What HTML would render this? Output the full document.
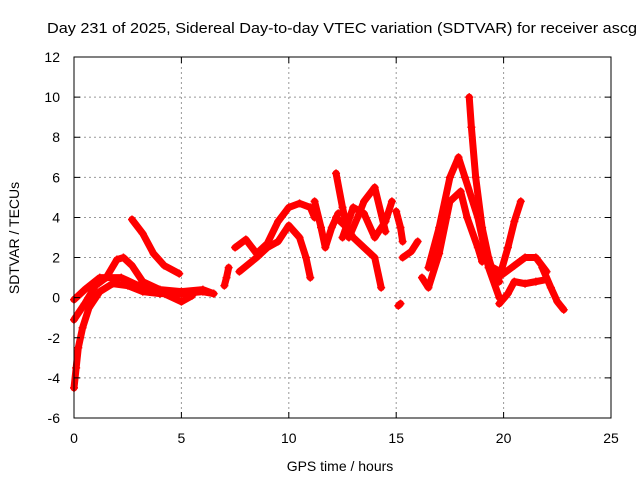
<!DOCTYPE html>
<html><head><meta charset="utf-8"><style>
body{margin:0;background:#fff}
svg{display:block;font-family:"Liberation Sans",sans-serif}
</style></head><body>
<svg id="chart" width="640" height="480" viewBox="0 0 640 480">
<text x="47" y="33" font-size="15" textLength="590" lengthAdjust="spacingAndGlyphs" fill="#000">Day 231 of 2025, Sidereal Day-to-day VTEC variation (SDTVAR) for receiver ascg</text>
<g id="grid"></g><g id="series"></g><g id="axes"></g>
<text x="340" y="471" font-size="14" text-anchor="middle">GPS time / hours</text>
<text transform="translate(19,238) rotate(-90)" font-size="14" text-anchor="middle">SDTVAR / TECUs</text>
</svg>
<script>
const xTicks=[0,5,10,15,20,25];
const yTicks=[-6,-4,-2,0,2,4,6,8,10,12];
const trackA=[[0,-4.5],[0.1,-3.5],[0.2,-2.5],[0.4,-1.5],[0.7,-0.5],[1.2,0.3],[1.8,0.7],[2.5,0.6],[3.2,0.3],[4,0.2],[5,0.2],[6,0.3],[6.5,0.2]];
const trackB=[[0,-1.1],[0.5,-0.3],[1,0.6],[1.5,1.0],[2,1.9],[2.3,2.0],[2.7,1.6],[3.2,0.8],[4,0.4],[5,0.3],[6,0.4],[6.5,0.2]];
const trackC=[[0,-0.1],[0.5,0.4],[1.2,1.0],[2.2,1.0],[3,0.6],[4,0.3],[5,-0.2],[5.5,0.1]];
const trackD=[[2.7,3.9],[3.2,3.2],[3.7,2.2],[4.2,1.6],[4.9,1.2]];
const trackE=[[7.0,0.6],[7.1,1.0],[7.2,1.5]];
const trackF=[[7.5,2.5],[8,2.9],[8.5,2.2],[9,2.7],[9.5,3.8],[10,4.5],[10.5,4.7],[11,4.5],[11.2,4.0]];
const trackG=[[7.7,1.3],[8.5,2.0],[9,2.5],[9.5,2.8],[10,3.6],[10.5,3.0],[10.8,2.0],[11,1.0]];
const trackH=[[11.2,4.8],[11.5,3.5],[11.7,2.5],[12,3.5],[12.3,4.2]];
const trackI=[[12.2,6.2],[12.5,4.5],[12.8,3.0],[13.2,4.0],[13.5,4.8],[14,5.5],[14.5,3.3]];
const trackJ=[[12.2,4.0],[12.7,3.5],[13,3.0],[13.5,2.5],[14,2.0],[14.3,0.5]];
const trackK=[[12.5,3.0],[13,4.5],[13.5,4.2],[14,3.0],[14.5,3.8],[14.8,4.8]];
const trackM=[[15,4.3],[15.2,3.5],[15.3,2.8]];
const trackM2=[[15.1,-0.4],[15.2,-0.3]];
const trackN=[[15.3,2.0],[15.7,2.3],[16,2.8]];
const trackO=[[16.2,1.0],[16.5,0.5],[17,2.2],[17.5,4.8],[18,5.3],[18.3,4.0],[18.8,2.5],[19,1.8]];
const trackP=[[16.5,1.5],[17,3.5],[17.5,6],[17.9,7.0],[18.2,6],[18.8,4],[19.3,1.5],[19.8,0]];
const trackQ=[[18.4,10],[18.5,8.5],[18.7,6],[19,3.5],[19.3,2.0],[19.5,1.3],[19.8,0.8]];
const trackR=[[19.8,1.0],[20.2,2.5],[20.5,3.8],[20.8,4.8]];
const trackS=[[19.5,1.5],[20,1.2],[20.5,1.6],[21,2.0],[21.5,2.0],[22,1.3]];
const trackT=[[19.8,-0.3],[20.2,0.2],[20.5,0.8],[21,0.7],[21.5,0.8],[22,0.9]];
const trackU=[[21.8,1.5],[22.2,0.5],[22.5,-0.2],[22.8,-0.6]];
const tracks=[trackA,trackB,trackC,trackD,trackE,trackF,trackG,trackH,trackI,trackJ,trackK,trackM,trackM2,trackN,trackO,trackP,trackQ,trackR,trackS,trackT,trackU];

const L=74,R=611,T=57,B=418;
const xs=h=>L+(h-0)/25*(R-L);
const ys=v=>B-(v+6)/18*(B-T);
const NS="http://www.w3.org/2000/svg";
function mk(tag,parent){const e=document.createElementNS(NS,tag);parent.appendChild(e);return e;}
const grid=document.getElementById('grid'),axes=document.getElementById('axes'),ser=document.getElementById('series');
xTicks.forEach(t=>{
  const x=xs(t);
  if(t>0&&t<25){const g=mk('line',grid);
    
    
    g.setAttribute('x1',x);g.setAttribute('x2',x);g.setAttribute('y1',T);g.setAttribute('y2',B);g.setAttribute('stroke','#999');g.setAttribute('stroke-dasharray','2,3');}
  const tk=mk('path',axes);
  
  
  tk.setAttribute('d',`M${x},${B}v-6M${x},${T}v6`);tk.setAttribute('stroke','#000');
  const lb=mk('text',axes);
  
  
  lb.setAttribute('x',x);lb.setAttribute('y',B+25);lb.setAttribute('font-size','14');lb.setAttribute('text-anchor','middle');lb.textContent=t;
});
yTicks.forEach(t=>{
  const y=ys(t);
  if(t>-6&&t<12){const g=mk('line',grid);
    
    
    g.setAttribute('x1',L);g.setAttribute('x2',R);g.setAttribute('y1',y);g.setAttribute('y2',y);g.setAttribute('stroke','#999');g.setAttribute('stroke-dasharray','2,3');}
  const tk=mk('path',axes);
  
  
  tk.setAttribute('d',`M${L},${y}h6M${R},${y}h-6`);tk.setAttribute('stroke','#000');
  const lb=mk('text',axes);
  
  
  lb.setAttribute('x',L-14);lb.setAttribute('y',y+5);lb.setAttribute('font-size','14');lb.setAttribute('text-anchor','end');lb.textContent=t;
});
const box=mk('rect',axes);


box.setAttribute('x',L);box.setAttribute('y',T);box.setAttribute('width',R-L);box.setAttribute('height',B-T);box.setAttribute('fill','none');box.setAttribute('stroke','#000');
tracks.forEach((tr,i)=>{
  const pl=mk('polyline',ser);
  
  
  pl.setAttribute('points',tr.map(p=>xs(p[0])+','+ys(p[1])).join(' '));
  pl.setAttribute('fill','none');pl.setAttribute('stroke','#f00');pl.setAttribute('stroke-width','7');pl.setAttribute('stroke-linejoin','round');pl.setAttribute('stroke-linecap','round');
  tr.forEach(p=>{
    const m=mk('path',ser);
    
    
    const x=xs(p[0]),y=ys(p[1]);
    m.setAttribute('d',`M${x-4},${y}h8M${x},${y-4}v8`);m.setAttribute('stroke','#f00');m.setAttribute('stroke-width','1.5');
  });
});
</script>
</body></html>
